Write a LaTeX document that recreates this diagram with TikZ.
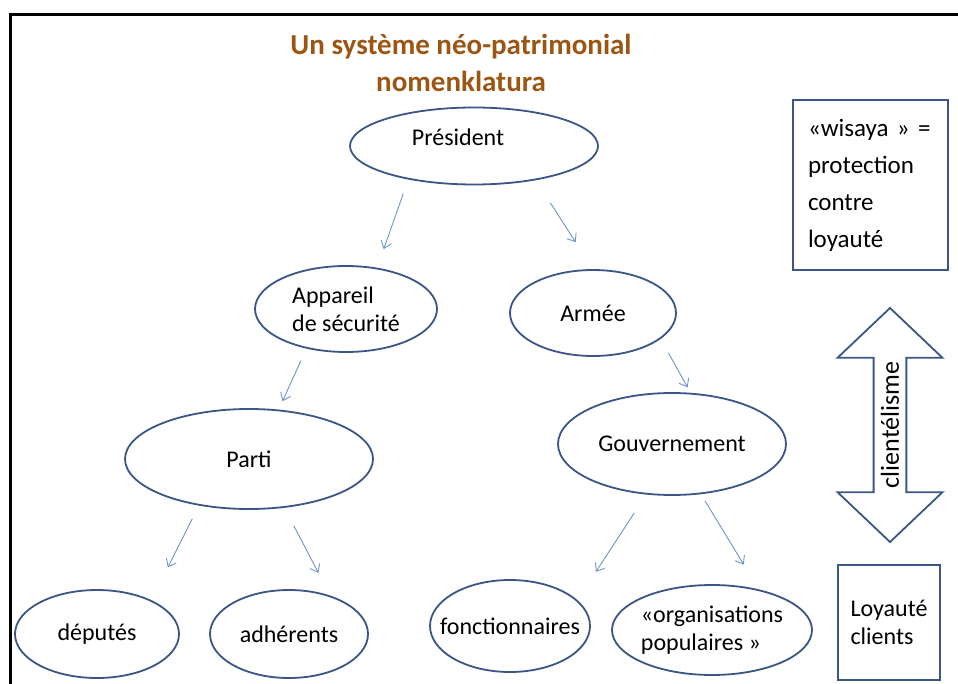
\documentclass[tikz,border=0pt]{standalone}
\usepackage{fontspec}
\setmainfont{Carlito}
\usepackage{tikz}
\usetikzlibrary{shapes.geometric,shapes.arrows,arrows.meta}

\definecolor{titlebrown}{RGB}{156,86,20}
\definecolor{edgeblue}{RGB}{58,86,134}
\definecolor{linkblue}{RGB}{112,146,200}

\begin{document}
\begin{tikzpicture}[
    x=1pt, y=-1pt,
    bubble/.style={ellipse, draw=edgeblue, line width=1.8pt, fill=white, inner sep=0pt, text centered, font=\fontsize{24}{28}\selectfont},
    framebox/.style={rectangle, draw=edgeblue, line width=1.8pt, fill=white, align=left, font=\fontsize{24}{28}\selectfont},
    heading/.style={align=center, text=titlebrown, font=\fontsize{29}{37}\selectfont\bfseries},
    link/.style={-{Straight Barb[length=7pt, width=11pt]}, linkblue, line width=0.9pt}
]
    \useasboundingbox (0,0) rectangle (958,684);
    \draw[line width=3pt] (10,15) rectangle (990,720);

    % Title
    \node[heading] (title) at (461,63) {Un système néo-patrimonial\\nomenklatura};

    % Hierarchy
    \node[bubble, minimum width=248, minimum height=77,
        label={[xshift=-16pt, yshift=9pt, font=\fontsize{24}{28}\selectfont]center:Président}] (pres) at (474,146) {};
    \node[bubble, minimum width=182, minimum height=86, align=left] (app) at (346,309) {Appareil\\de sécurité};
    \node[bubble, minimum width=166, minimum height=86] (armee) at (593,313) {Armée};
    \node[bubble, minimum width=248, minimum height=100] (parti) at (249,459) {Parti};
    \node[bubble, minimum width=228, minimum height=102] (gouv) at (672,444) {Gouvernement};

    % Clients
    \node[bubble, minimum width=164, minimum height=88] (deput) at (97,634) {députés};
    \node[bubble, minimum width=158, minimum height=88] (adher) at (289,634) {adhérents};
    \node[bubble, minimum width=160, minimum height=92, inner xsep=-16pt] (fonct) at (510,626) {fonctionnaires};
    \node[bubble, minimum width=200, minimum height=90, inner xsep=-12pt, align=left] (orga) at (712,630) {«organisations\\populaires »};

    % Right column
    \node[framebox, minimum width=155, minimum height=170, text width=125, inner xsep=15pt,
        font=\fontsize{25}{37}\selectfont] (wisaya) at (870.5,185) {«wisaya » =\\protection\\contre\\loyauté};
    \node[double arrow, draw=edgeblue, line width=1.8pt, rotate=90, minimum height=234, minimum width=105,
        double arrow head extend=26.5, double arrow tip angle=93, inner sep=2pt,
        font=\fontsize{26}{30}\selectfont] (clien) at (890,425) {clientélisme};
    \node[framebox, minimum width=102, minimum height=115] (loyal) at (889,622.5) {Loyauté\\clients};

    % Arrows
    \draw[link, shorten <=15pt, shorten >=19.7pt] (pres.207.4) -- (app.53.6);
    \draw[link, shorten <=26.8pt, shorten >=32pt] (pres.331.6) -- (armee.90);
    \draw[link, shorten <=13.3pt, shorten >=9.2pt] (app.225.5) -- (parti.59.2);
    \draw[link, shorten <=15.8pt, shorten >=6.2pt] (armee.339.7) -- (gouv.70.5);
    \draw[link, shorten <=14.7pt, shorten >=36.6pt] (parti.223.1) -- (deput.32.2);
    \draw[link, shorten <=20.1pt, shorten >=25.6pt] (parti.306.1) -- (adher.43.9);
    \draw[link, shorten <=21.9pt, shorten >=33.7pt] (gouv.243.4) -- (fonct.21.4);
    \draw[link, shorten <=7.8pt, shorten >=29pt] (gouv.300.5) -- (orga.41.3);
\end{tikzpicture}
\end{document}
